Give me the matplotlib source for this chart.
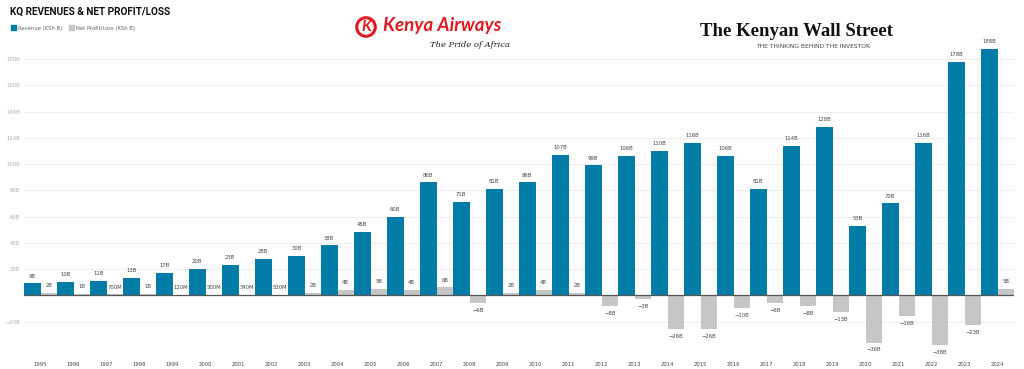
import numpy as np
import matplotlib
matplotlib.use("Agg")
import matplotlib.pyplot as plt
from matplotlib.patches import Patch

years = list(range(1995, 2025))
revenue = [9, 10, 11, 13, 17, 20, 23, 28, 30, 38, 48, 60, 86, 71, 81, 86, 107, 99,
           106, 110, 116, 106, 81, 114, 128, 53, 70, 116, 178, 188]
profit = [2, 1, 0.7, 1, 0.12, 0.5, 0.34, 0.53, 2, 4, 5, 4, 6, -6, 2, 4, 2, -8,
          -3, -26, -26, -10, -6, -8, -13, -36, -16, -38, -23, 5]
rev_labels = [f"{v}B" for v in revenue]
profit_labels = ["2B", "1B", "700M", "1B", "120M", "500M", "340M", "530M", "2B", "4B",
                 "5B", "4B", "6B", "\u22126B", "2B", "4B", "2B", "\u22128B", "\u22123B",
                 "\u221226B", "\u221226B", "\u221210B", "\u22126B", "\u22128B", "\u221213B",
                 "\u221236B", "\u221216B", "\u221238B", "\u221223B", "5B"]
yticks = [-20, 20, 40, 60, 80, 100, 120, 140, 160, 180]

BLUE = "#007ca6"
GREY = "#c6c6c6"
RED = "#e3191f"
W, H = 1024, 369

fig = plt.figure(figsize=(W / 100, H / 100), dpi=100)
ylo, yhi = -42, 196
px_per = 1.3125
top_px = 295.3 - px_per * yhi
bot_px = 295.3 - px_per * ylo
ax = fig.add_axes([24 / W, 1 - bot_px / H, 990 / W, (bot_px - top_px) / H])

x = np.arange(len(years))
bw = 0.5
ax.bar(x - bw / 2, revenue, width=bw, color=BLUE, linewidth=0, zorder=3)
ax.bar(x + bw / 2, profit, width=bw, color=GREY, linewidth=0, zorder=3)

for i in range(len(years)):
    ax.annotate(rev_labels[i], (x[i] - bw / 2, revenue[i]), xytext=(0, 3.5),
                textcoords="offset points", ha="center", va="bottom",
                fontsize=3.8, color="#444444")
    if profit[i] >= 0:
        ax.annotate(profit_labels[i], (x[i] + bw / 2, profit[i]), xytext=(0, 3.5),
                    textcoords="offset points", ha="center", va="bottom",
                    fontsize=3.8, color="#444444")
    else:
        ax.annotate(profit_labels[i], (x[i] + bw / 2, profit[i]), xytext=(0, -3.5),
                    textcoords="offset points", ha="center", va="top",
                    fontsize=3.8, color="#444444")

ax.axhline(0, color="#555555", linewidth=0.9, zorder=4)
ax.set_xlim(-0.5, len(years) - 0.5)
ax.set_ylim(ylo, yhi)
ax.set_yticks(yticks)
ax.set_yticklabels([f"\u2212{-t}B" if t < 0 else f"{t}B" for t in yticks])
ax.set_xticks(x)
ax.set_xticklabels([str(y) for y in years])
ax.grid(axis="y", color="#eeeeee", linewidth=0.8, zorder=0)
ax.tick_params(axis="y", length=0, labelsize=3.8, labelcolor="#b0b0b0", pad=3)
ax.tick_params(axis="x", length=0, labelsize=3.8, labelcolor="#444444", pad=8)
for s in ax.spines.values():
    s.set_visible(False)

fig.text(10 / W, 1 - 12 / H, "KQ REVENUES & NET PROFIT/LOSS", fontsize=7.2,
         fontweight="bold", color="#111111", va="center", family="Roboto")
fig.legend(handles=[Patch(color=BLUE, label="Revenue (KSh B)"),
                    Patch(color=GREY, label="Net Profit/Loss (KSh B)")],
           loc="center left", bbox_to_anchor=(6 / W, 1 - 28 / H), ncol=2, frameon=False,
           fontsize=3.8, handlelength=1.0, handleheight=1.0, handletextpad=0.4,
           columnspacing=1.2, labelcolor="#666666")

# header logos approximated with text
fig.text(366 / W, 1 - 27 / H, "K", fontsize=11, color=RED, fontweight="bold",
         style="italic", va="center", ha="center", family="Lato",
         bbox=dict(boxstyle="circle,pad=0.15", fc="none", ec=RED, lw=2.2))
fig.text(383 / W, 1 - 25 / H, "Kenya Airways", fontsize=13.5, color=RED,
         fontweight="bold", style="italic", va="center", ha="left", family="Lato")
fig.text(430 / W, 1 - 45 / H, "The Pride of Africa", fontsize=6, color="#222222",
         style="italic", va="center", ha="left", family="DejaVu Serif")
fig.text(797 / W, 1 - 31 / H, "The Kenyan Wall Street", fontsize=13.5, color="#111111",
         fontweight="bold", va="center", ha="center", family="Liberation Serif")
fig.text(813 / W, 1 - 46 / H, "THE THINKING BEHIND THE INVESTOR", fontsize=4.3,
         color="#444444", va="center", ha="center")

fig.savefig("out.png", dpi=100, facecolor="white")
